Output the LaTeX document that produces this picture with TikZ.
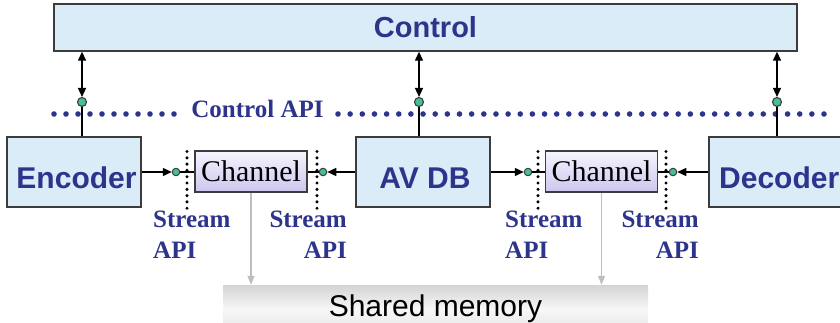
\documentclass[tikz,border=0pt]{standalone}
\usepackage{fontspec}
\setmainfont{Liberation Serif}
\newfontfamily\lsans{Liberation Sans}
\usetikzlibrary{arrows.meta}

\definecolor{boxblue}{RGB}{218,236,248}
\definecolor{inkblue}{RGB}{45,52,140}
\definecolor{edgegray}{RGB}{60,60,60}
\definecolor{portgreen}{RGB}{70,190,150}
\definecolor{chtop}{RGB}{246,244,254}
\definecolor{chbot}{RGB}{205,198,238}
\definecolor{memgray}{RGB}{190,190,190}

\tikzset{
  unitbox/.style={draw=edgegray, line width=1.4pt, fill=boxblue, inner sep=0pt,
    minimum width=134pt, minimum height=70pt},
  unitname/.style={font=\lsans\bfseries\fontsize{30}{36}\selectfont, text=inkblue, inner sep=0pt},
  chanbox/.style={draw=edgegray, line width=1.2pt, top color=chtop, bottom color=chbot,
    inner sep=0pt, minimum width=112pt, minimum height=41pt,
    font=\fontsize{30}{36}\selectfont},
  apilabel/.style={font=\bfseries\fontsize{25}{30}\selectfont, text=inkblue, inner sep=0pt},
  ctrlport/.style={circle, draw=edgegray, line width=1.1pt, fill=portgreen, inner sep=0pt, minimum size=9pt},
  streamport/.style={circle, draw=edgegray, line width=1pt, fill=portgreen, inner sep=0pt, minimum size=7.5pt},
  conn/.style={draw=black, line width=1.4pt},
  tip/.style={-{Triangle[length=9pt,width=8pt]}},
  twotips/.style={{Triangle[length=9pt,width=8pt]}-{Triangle[length=9pt,width=8pt]}},
  memarrow/.style={draw=memgray, line width=1.3pt, -{Triangle[length=9pt,width=7pt]}},
}

\begin{document}
\begin{tikzpicture}[x=1pt, y=-1pt]
  \useasboundingbox (0,0) rectangle (840,322);
  \clip (0,0) rectangle (840,322);

  % control plane
  \node[draw=edgegray, line width=1.4pt, fill=boxblue, inner sep=0pt,
        minimum width=743pt, minimum height=47pt,
        font=\lsans\bfseries\fontsize{29}{35}\selectfont, text=inkblue]
        (ctrl) at (425.5,27.5) {Control};

  % processing units
  \node[unitbox] (enc)  at (74,172)  {};
  \node[unitbox] (avdb) at (423,172) {};
  \node[unitbox] (dec)  at (776,172) {};
  \node[unitname, anchor=base]      (enctext) at (76.5,188) {Encoder};
  \node[unitname, anchor=base]      (avtext)  at (425,188)  {AV DB};
  \node[unitname, anchor=base west] (dectext) at (719,188)  {Decoder};

  % channels
  \node[chanbox] (ch1) at (251,171.5)   {Channel};
  \node[chanbox] (ch2) at (601.5,171.5) {Channel};

  % shared memory
  \node[top color=black!17, bottom color=black!10, middle color=black!3, inner sep=0pt,
        minimum width=425pt, minimum height=48pt,
        font=\lsans\fontsize{30}{36}\selectfont]
        (shm) at (435.5,309) {Shared memory};

  % control API line: a row of round dots broken by its label
  \node[font=\bfseries\fontsize{25}{30}\selectfont, text=inkblue, inner sep=0pt]
        (capi) at (257.5,108.8) {Control API};
  \foreach \k in {0,...,10}
    \fill[inkblue] (54+12*\k,114) circle (2.8pt);
  \foreach \k in {0,...,40}
    \fill[inkblue] (338+12.15*\k,114) circle (2.8pt);

  % stream API boundaries
  \foreach \x in {187,317,538,666}
    \foreach \k in {0,...,9}
      \fill[black] (\x,151.5+6.3*\k) circle (1.7pt);

  % stream API labels
  \node[apilabel, anchor=base west] (sa1) at (153,227) {Stream};
  \node[apilabel, anchor=base west] (sb1) at (153,258) {API};
  \node[apilabel, anchor=base east] (sa2) at (347,227) {Stream};
  \node[apilabel, anchor=base east] (sb2) at (347,258) {API};
  \node[apilabel, anchor=base west] (sa3) at (505,227) {Stream};
  \node[apilabel, anchor=base west] (sb3) at (505,258) {API};
  \node[apilabel, anchor=base east] (sa4) at (699,227) {Stream};
  \node[apilabel, anchor=base east] (sb4) at (699,258) {API};

  % control ports and links
  \node[ctrlport] (p1) at (82,102)  {};
  \node[ctrlport] (p2) at (419,102) {};
  \node[ctrlport] (p3) at (777,102) {};
  \foreach \p/\u in {p1/enc, p2/avdb, p3/dec}{
    \draw[conn, twotips] (ctrl.south -| \p) -- (\p.north);
    \draw[conn] (\p.south) -- (\p |- \u.north);
  }

  % stream ports and links
  \node[streamport] (s1) at (176,172) {};
  \node[streamport] (s2) at (323,172) {};
  \node[streamport] (s3) at (528,172) {};
  \node[streamport] (s4) at (673,172) {};
  \draw[conn, tip] (enc.east |- s1) -- (s1.west);
  \draw[conn] (s1.east) -- (s1 -| ch1.west);
  \draw[conn, tip] (avdb.west |- s2) -- (s2.east);
  \draw[conn] (s2.west) -- (s2 -| ch1.east);
  \draw[conn, tip] (avdb.east |- s3) -- (s3.west);
  \draw[conn] (s3.east) -- (s3 -| ch2.west);
  \draw[conn, tip] (dec.west |- s4) -- (s4.east);
  \draw[conn] (s4.west) -- (s4 -| ch2.east);

  % channels to shared memory
  \draw[memarrow] (ch1.south) -- (ch1.south |- shm.north);
  \draw[memarrow] (ch2.south) -- (ch2.south |- shm.north);
\end{tikzpicture}
\end{document}
